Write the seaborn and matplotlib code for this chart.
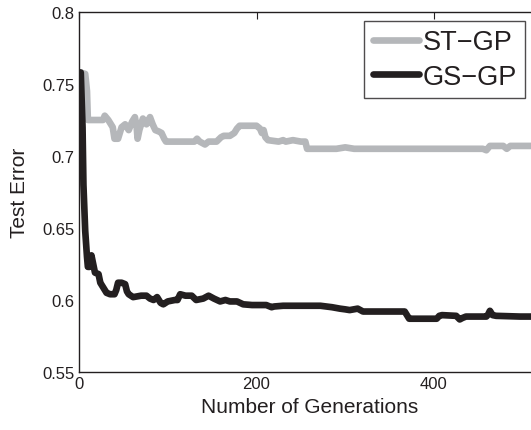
import pandas as pd
import matplotlib
matplotlib.use('Agg')
import matplotlib.pyplot as plt
import seaborn as sns
from matplotlib.lines import Line2D

# ST-GP test error (grey curve)
st_gen = [1, 7, 9, 10, 27, 29, 33, 38, 40, 44, 48, 52, 56, 60, 63, 65, 66, 68, 72, 76,
          80, 83, 86, 90, 93, 96, 98, 130, 133, 136, 142, 146, 150, 155, 160, 163, 170,
          175, 178, 181, 185, 200, 204, 206, 208, 210, 213, 225, 230, 233, 241, 250, 255,
          257, 290, 300, 310, 420, 455, 459, 463, 468, 478, 482, 486, 520]
st_err = [0.758, 0.757, 0.745, 0.725, 0.725, 0.728, 0.725, 0.720, 0.712, 0.712, 0.720,
          0.722, 0.718, 0.724, 0.727, 0.720, 0.712, 0.718, 0.726, 0.722, 0.727, 0.722,
          0.718, 0.717, 0.716, 0.712, 0.710, 0.710, 0.712, 0.710, 0.708, 0.710, 0.710,
          0.710, 0.713, 0.714, 0.714, 0.716, 0.719, 0.721, 0.721, 0.721, 0.719, 0.716,
          0.718, 0.713, 0.711, 0.710, 0.711, 0.710, 0.711, 0.710, 0.710, 0.705, 0.705,
          0.706, 0.705, 0.705, 0.705, 0.704, 0.707, 0.707, 0.707, 0.705, 0.707, 0.707]

# GS-GP test error (black curve)
gs_gen = [0, 2, 4, 5, 7, 9, 10, 12, 14, 16, 18, 22, 24, 26, 29, 31, 35, 40, 42, 44, 48,
          52, 54, 56, 61, 70, 76, 80, 84, 88, 92, 95, 100, 108, 111, 114, 120, 127, 132,
          140, 146, 152, 159, 165, 170, 178, 185, 195, 211, 217, 220, 230, 250, 272, 285,
          294, 300, 305, 314, 320, 328, 343, 367, 370, 372, 403, 406, 409, 425, 429, 432,
          436, 459, 461, 463, 466, 470, 497, 520]
gs_err = [0.758, 0.758, 0.720, 0.680, 0.648, 0.630, 0.623, 0.623, 0.631, 0.625, 0.619,
          0.618, 0.612, 0.610, 0.607, 0.605, 0.604, 0.604, 0.607, 0.612, 0.612, 0.611,
          0.606, 0.604, 0.602, 0.603, 0.603, 0.601, 0.600, 0.602, 0.598, 0.597, 0.599,
          0.600, 0.600, 0.604, 0.603, 0.603, 0.600, 0.601, 0.603, 0.601, 0.599, 0.600,
          0.599, 0.599, 0.597, 0.5965, 0.5965, 0.595, 0.5955, 0.596, 0.596, 0.596, 0.595,
          0.594, 0.5935, 0.593, 0.594, 0.592, 0.592, 0.592, 0.592, 0.589, 0.587, 0.587,
          0.589, 0.5895, 0.589, 0.5865, 0.5875, 0.5885, 0.5885, 0.590, 0.5925, 0.5895,
          0.589, 0.5885, 0.5885]

x_ticks = [0, 200, 400]
y_ticks = [0.55, 0.6, 0.65, 0.7, 0.75, 0.8]
y_ticklabels = ['0.55', '0.6', '0.65', '0.7', '0.75', '0.8']

df = pd.concat([
    pd.DataFrame({'gen': st_gen, 'err': st_err, 'method': 'ST\u2212GP'}),
    pd.DataFrame({'gen': gs_gen, 'err': gs_err, 'method': 'GS\u2212GP'}),
])

sns.set_style('white')
plt.rcParams['font.family'] = ['Liberation Sans', 'DejaVu Sans']
ink = '#231f20'
grey = '#b5b7ba'

fig = plt.figure(figsize=(5.31, 4.31), dpi=100)
# axes runs past the right edge of the figure, as in the cropped original
ax = fig.add_axes([79 / 531, 58 / 431, 461.5 / 531, 360 / 431])

sns.lineplot(data=df, x='gen', y='err', hue='method',
             palette={'ST\u2212GP': grey, 'GS\u2212GP': ink},
             linewidth=4.8, ax=ax, legend=False, sort=False, estimator=None)
for ln in ax.get_lines():
    ln.set_solid_joinstyle('round')
    ln.set_solid_capstyle('round')

ax.set_xlim(0, 520)
ax.set_ylim(0.55, 0.8)
ax.set_xticks(x_ticks)
ax.set_yticks(y_ticks)
ax.set_yticklabels(y_ticklabels)
ax.tick_params(direction='in', length=5, width=0.8, top=True, right=True,
               labelsize=12, colors=ink, pad=3)
for sp in ax.spines.values():
    sp.set_color(ink)
    sp.set_linewidth(1.0)
ax.set_xlabel('Number of Generations', fontsize=15, color=ink, labelpad=4)
ax.set_ylabel('Test Error', fontsize=15, color=ink, labelpad=10)

# legend box at the top right of the visible area
handles = [Line2D([], [], color=grey, linewidth=4.8),
           Line2D([], [], color=ink, linewidth=4.8)]
leg = fig.legend(handles, ['ST\u2212GP', 'GS\u2212GP'], loc='upper right',
                 bbox_to_anchor=(525 / 531, 1 - 22 / 431), fontsize=19.5,
                 frameon=True, fancybox=False, handlelength=1.7, handletextpad=0.15,
                 labelspacing=0.32, borderpad=0.3, borderaxespad=0)
leg.get_frame().set_edgecolor(ink)
leg.get_frame().set_linewidth(1.0)
for t in leg.get_texts():
    t.set_color(ink)

fig.savefig('out.png', dpi=100)
